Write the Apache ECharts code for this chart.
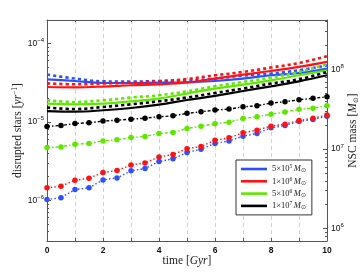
<!DOCTYPE html>
<html>
<head>
<meta charset="utf-8">
<script src="https://cdn.jsdelivr.net/npm/echarts@6/dist/echarts.min.js"></script>
<style>html,body{margin:0;padding:0;background:#fff;}#c{width:362px;height:272px;}</style>
</head>
<body>
<div id="c"></div>
<script>
// ---- data ----
const timeHalf = [0,0.5,1,1.5,2,2.5,3,3.5,4,4.5,5,5.5,6,6.5,7,7.5,8,8.5,9,9.5,10];
const timeInt = [0,1,2,3,4,5,6,7,8,9,10];
const xTickLabels = [0,2,4,6,8,10];
const rateTicks = [1e-6,1e-5,1e-4];
const massTicks = [1e6,1e7,1e8];

const legendNames = ['5×10^5', '1×10^6', '5×10^6', '1×10^7'];

// disrupted stars rate [1/yr]
const rateBlue  = [1.02e-6,1.08e-6,1.37e-6,1.44e-6,1.82e-6,1.93e-6,2.37e-6,2.54e-6,3.12e-6,3.37e-6,4.07e-6,4.48e-6,5.30e-6,5.71e-6,6.56e-6,7.10e-6,8.37e-6,8.98e-6,1.01e-5,1.07e-5,1.18e-5];
const rateRed   = [1.44e-6,1.51e-6,1.80e-6,1.91e-6,2.26e-6,2.39e-6,2.82e-6,2.99e-6,3.57e-6,3.83e-6,4.54e-6,4.84e-6,5.83e-6,6.24e-6,7.23e-6,7.82e-6,8.79e-6,9.33e-6,1.04e-5,1.11e-5,1.22e-5];
const rateGreen = [4.71e-6,4.79e-6,5.19e-6,5.30e-6,5.71e-6,5.89e-6,6.31e-6,6.50e-6,7.10e-6,7.31e-6,8.22e-6,8.79e-6,9.41e-6,9.90e-6,1.10e-5,1.16e-5,1.25e-5,1.33e-5,1.44e-5,1.49e-5,1.60e-5];
const rateBlack = [8.73e-6,8.97e-6,9.52e-6,9.70e-6,1.02e-5,1.05e-5,1.08e-5,1.11e-5,1.16e-5,1.19e-5,1.28e-5,1.34e-5,1.41e-5,1.45e-5,1.55e-5,1.60e-5,1.73e-5,1.80e-5,1.91e-5,1.99e-5,2.08e-5];

// NSC mass [Msun]
const massBlue      = [7.55e7,7.19e7,6.78e7,6.78e7,6.86e7,6.92e7,7.19e7,7.70e7,8.48e7,9.06e7,1.03e8];
const massBlueDash  = [8.65e7,7.70e7,7.12e7,7.06e7,7.19e7,7.27e7,7.70e7,8.41e7,8.91e7,9.80e7,1.13e8];
const massRed       = [6.04e7,5.99e7,6.11e7,6.35e7,6.53e7,6.89e7,7.70e7,8.65e7,9.60e7,1.08e8,1.25e8];
const massRedDash   = [6.73e7,6.53e7,6.67e7,6.86e7,7.12e7,7.60e7,8.48e7,9.33e7,1.06e8,1.21e8,1.47e8];
const massGreen     = [3.73e7,3.66e7,3.73e7,3.99e7,4.32e7,4.99e7,5.77e7,6.47e7,7.33e7,8.48e7,9.80e7];
const massGreenDash = [4.11e7,3.91e7,4.11e7,4.45e7,4.75e7,5.33e7,6.16e7,6.98e7,7.93e7,9.33e7,1.17e8];
const massBlack     = [3.01e7,2.96e7,3.08e7,3.29e7,3.63e7,4.15e7,4.66e7,5.38e7,6.16e7,7.12e7,8.48e7];
const massBlackDash = [3.33e7,3.19e7,3.39e7,3.66e7,3.99e7,4.46e7,5.08e7,5.77e7,6.67e7,7.55e7,9.33e7];

// ---- styles ----
const colors = ['#2d50ff', '#ff1212', '#5ee800', '#000000'];
const rateMin = 3.03e-7, rateMax = 1.98e-4;
const massMin = 7.0e5, massMax = 4.2e8;

function minors(lo, hi) {
  const out = [];
  for (let d = Math.floor(Math.log10(lo)); d <= Math.ceil(Math.log10(hi)); d++) {
    for (let k = 2; k <= 9; k++) {
      const v = k * Math.pow(10, d);
      if (v > lo * 1.001 && v < hi * 0.999) out.push(v);
    }
  }
  return out;
}
function pairs(xs, ys) { return xs.map((x, i) => [x, ys[i]]); }

const expRich = {
  b: { fontSize: 8.5, lineHeight: 12, fontFamily: 'Liberation Sans', color: '#111' },
  e: { fontSize: 6, lineHeight: 6, verticalAlign: 'top', fontFamily: 'Liberation Sans', color: '#111' }
};
function expFmt(v) {
  const e = Math.round(Math.log10(v));
  return '{b|10}{e|' + (e < 0 ? '−' + (-e) : e) + '}';
}
const axisCol = '#555';
const serif = 'Liberation Serif';

const series = [];
const rates = [rateBlue, rateRed, rateGreen, rateBlack];
const masses = [massBlue, massRed, massGreen, massBlack];
const massesDash = [massBlueDash, massRedDash, massGreenDash, massBlackDash];
const dotTypes = [[1.5, 2.2], [1.5, 2.2], [3, 2, 1.5, 2], [3, 2, 1.5, 2]];

for (let i = 0; i < 4; i++) {
  series.push({
    name: legendNames[i], type: 'line', yAxisIndex: 2, smooth: 0.4, symbol: 'none',
    data: pairs(timeInt, masses[i]),
    lineStyle: { color: colors[i], width: 2.2 }, itemStyle: { color: colors[i] }, z: 3
  });
  series.push({
    name: legendNames[i] + ' dash', type: 'line', yAxisIndex: 2, smooth: 0.4, symbol: 'none',
    data: pairs(timeInt, massesDash[i]),
    lineStyle: { color: colors[i], width: 2.6, type: [3.2, 3] }, itemStyle: { color: colors[i] }, z: 3
  });
  series.push({
    name: legendNames[i] + ' rate', type: 'line', yAxisIndex: 0, symbol: 'circle', symbolSize: 5.5,
    data: pairs(timeHalf, rates[i]),
    lineStyle: { color: colors[i], width: 1.4, type: dotTypes[i] }, itemStyle: { color: colors[i] }, z: 4
  });
}

const chart = echarts.init(document.getElementById('c'), null, { renderer: 'canvas' });
chart.setOption({
  animation: false,
  backgroundColor: '#fff',
  grid: { left: 47, right: 35, top: 20, bottom: 31, outerBoundsMode: 'none', containLabel: false },
  legend: {
    data: legendNames, orient: 'vertical', left: 236, top: 160,
    padding: [4, 6, 4, 5], itemWidth: 26, itemHeight: 2.6, itemGap: 2.3, icon: 'rect',
    borderColor: '#333', borderWidth: 1, backgroundColor: '#fff', selectedMode: false,
    formatter: function (n) {
      const p = n.split('^');
      return '{t|' + p[0] + '}{s|' + p[1] + '}{m|M}{o|⊙}';
    },
    textStyle: {
      rich: {
        t: { fontFamily: serif, fontSize: 8.5, color: '#222', lineHeight: 10 },
        s: { fontFamily: serif, fontSize: 5.5, color: '#222', lineHeight: 5, verticalAlign: 'top' },
        m: { fontFamily: serif, fontSize: 8.5, fontStyle: 'italic', color: '#222', lineHeight: 10, padding: [0, 0, 0, 1.5] },
        o: { fontFamily: serif, fontSize: 5.5, color: '#222', lineHeight: 5, verticalAlign: 'bottom' }
      }
    }
  },
  xAxis: [{
    type: 'value', min: 0, max: 10, interval: 1, position: 'bottom',
    name: '{r|time [}{i|Gyr}{r|]}', nameLocation: 'middle', nameGap: 14, nameMoveOverlap: false,
    nameTextStyle: { rich: {
      r: { fontFamily: serif, fontSize: 11.5, color: '#222' },
      i: { fontFamily: serif, fontSize: 11.5, fontStyle: 'italic', color: '#222' } } },
    axisLine: { lineStyle: { color: axisCol, width: 1 } },
    axisTick: { inside: true, length: 3, lineStyle: { color: axisCol } },
    axisLabel: { customValues: xTickLabels, margin: 5, fontFamily: 'Liberation Sans', fontSize: 8.5, color: '#111', fontWeight: 'bold' },
    splitLine: { show: true, lineStyle: { color: '#98ebe2', type: [4, 3], width: 1 } }
  }, {
    type: 'value', min: 0, max: 10, interval: 1, position: 'top',
    axisLine: { lineStyle: { color: axisCol, width: 1 } },
    axisTick: { inside: true, length: 2, lineStyle: { color: axisCol } },
    axisLabel: { show: false }, splitLine: { show: false }
  }],
  yAxis: [{
    type: 'log', logBase: 10, min: rateMin, max: rateMax, position: 'left', offset: 0,
    name: '{r|disrupted stars [}{i|yr}{s|−1}{r|]}', nameLocation: 'middle', nameRotate: 90, nameGap: 22, nameMoveOverlap: false,
    nameTextStyle: { rich: {
      r: { fontFamily: serif, fontSize: 11.5, color: '#222', lineHeight: 14 },
      i: { fontFamily: serif, fontSize: 11.5, fontStyle: 'italic', color: '#222', lineHeight: 14 },
      s: { fontFamily: serif, fontSize: 7.5, color: '#222', lineHeight: 7, verticalAlign: 'top' } } },
    axisLine: { show: true, lineStyle: { color: axisCol, width: 1 } },
    axisTick: { inside: true, length: 4, customValues: rateTicks, lineStyle: { color: axisCol } },
    axisLabel: { customValues: rateTicks, formatter: expFmt, rich: expRich, margin: 3 },
    splitLine: { show: false }
  }, {
    type: 'log', logBase: 10, min: rateMin, max: rateMax, position: 'left', offset: 0,
    axisLine: { show: false },
    axisTick: { inside: true, length: 2, customValues: minors(rateMin, rateMax), lineStyle: { color: axisCol } },
    axisLabel: { show: false }, splitLine: { show: false }
  }, {
    type: 'log', logBase: 10, min: massMin, max: massMax, position: 'right', offset: 0,
    name: '{r|NSC mass [}{i|M}{o|⊙}{r|]}', nameLocation: 'middle', nameRotate: 90, nameGap: 19, nameMoveOverlap: false,
    nameTextStyle: { rich: {
      r: { fontFamily: serif, fontSize: 11.5, color: '#222', lineHeight: 14 },
      i: { fontFamily: serif, fontSize: 11.5, fontStyle: 'italic', color: '#222', lineHeight: 14 },
      o: { fontFamily: serif, fontSize: 7, color: '#222', lineHeight: 7, verticalAlign: 'bottom' } } },
    axisLine: { show: true, lineStyle: { color: axisCol, width: 1 } },
    axisTick: { inside: true, length: 4, customValues: massTicks, lineStyle: { color: axisCol } },
    axisLabel: { customValues: massTicks, formatter: expFmt, rich: expRich, margin: 4 },
    splitLine: { show: false }
  }, {
    type: 'log', logBase: 10, min: massMin, max: massMax, position: 'right', offset: 0,
    axisLine: { show: false },
    axisTick: { inside: true, length: 2, customValues: minors(massMin, massMax), lineStyle: { color: axisCol } },
    axisLabel: { show: false }, splitLine: { show: false }
  }],
  series: series
});
</script>
</body>
</html>
